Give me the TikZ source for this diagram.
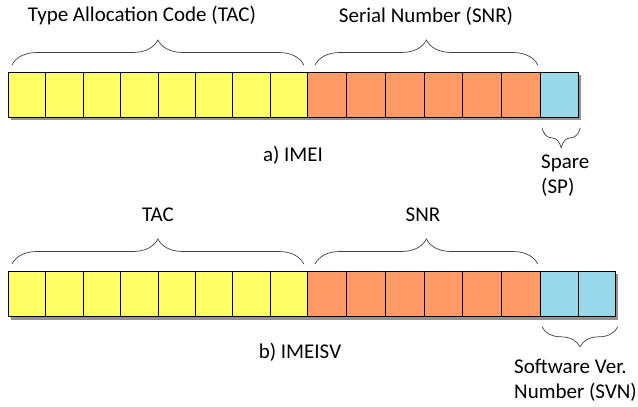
\documentclass[tikz,border=0pt]{standalone}
\usepackage{fontspec}
\setmainfont{Carlito}
\usetikzlibrary{decorations.pathreplacing}

\definecolor{tacyellow}{HTML}{FFFF66}
\definecolor{snrorange}{HTML}{FF9966}
\definecolor{spblue}{HTML}{99D8E8}

\begin{document}
\begin{tikzpicture}[x=1pt,y=-1pt,font=\fontsize{21}{25}\selectfont,
	cell/.style={draw,line width=0.8pt,minimum height=45pt,inner sep=0pt,anchor=north west},
	tac cell/.style={cell,minimum width=37.375pt,fill=tacyellow},
	snr cell/.style={cell,minimum width=38.833pt,fill=snrorange},
	sp cell/.style={cell,minimum width=37.5pt,fill=spblue},
	cell shadow/.style={fill=gray!85},
	brace/.style={decorate,decoration={brace,amplitude=#1},line width=0.7pt,draw=black!75},
	brace/.default=25pt]

	\useasboundingbox (0,0) rectangle (638,407);

	%shadows
	\fill[cell shadow] (11,75) rectangle (581,120);
	\fill[cell shadow] (11,274) rectangle (618,320);

	%cells of a) IMEI
	\foreach \i in {1,...,8}
		\node[tac cell] (a\i) at ({8+37.375*(\i-1)},72) {};
	\foreach \i in {9,...,14}
		\node[snr cell] (a\i) at ({307+38.833*(\i-9)},72) {};
	\node[sp cell] (a15) at (540,72) {};

	%cells of b) IMEISV
	\foreach \i in {1,...,8}
		\node[tac cell] (b\i) at ({8+37.375*(\i-1)},271) {};
	\foreach \i in {9,...,14}
		\node[snr cell] (b\i) at ({307+38.833*(\i-9)},271) {};
	\node[sp cell] (b15) at (540,271) {};
	\node[sp cell] (b16) at (577.5,271) {};

	%labels
	\node (TACa) at (142,16) {Type Allocation Code (TAC)};
	\node (SNRa) at (426,16) {Serial Number (SNR)};
	\node (IMEI) at (293,155) {a) IMEI};
	\node[align=left, anchor=north west, inner sep=0pt] (SP) at (541,155) {Spare\\(SP)};

	\node (TACb) at (158,215) {TAC};
	\node (SNRb) at (423,215) {SNR};
	\node (IMEISV) at (300,352) {b) IMEISV};
	\node[align=left, anchor=north west, inner sep=0pt] (SVN) at (514,359) {Software Ver.\\Number (SVN)};

	%braces above
	\draw[brace] ([xshift=4pt,yshift=7pt]a1.north west) -- ([xshift=-4pt,yshift=7pt]a8.north east);
	\draw[brace] ([xshift=8pt,yshift=7pt]a9.north west) -- ([xshift=-3pt,yshift=7pt]a14.north east);
	\draw[brace] ([xshift=4pt,yshift=7pt]b1.north west) -- ([xshift=-4pt,yshift=7pt]b8.north east);
	\draw[brace] ([xshift=8pt,yshift=7pt]b9.north west) -- ([xshift=-3pt,yshift=7pt]b14.north east);
	%braces below
	\draw[brace=20pt] ([xshift=2pt,yshift=-10pt]a15.south east) -- ([xshift=2pt,yshift=-10pt]a15.south west);
	\draw[brace=20pt] ([xshift=2pt,yshift=-10pt]b16.south east) -- ([xshift=2pt,yshift=-10pt]b15.south west);

\end{tikzpicture}
\end{document}
